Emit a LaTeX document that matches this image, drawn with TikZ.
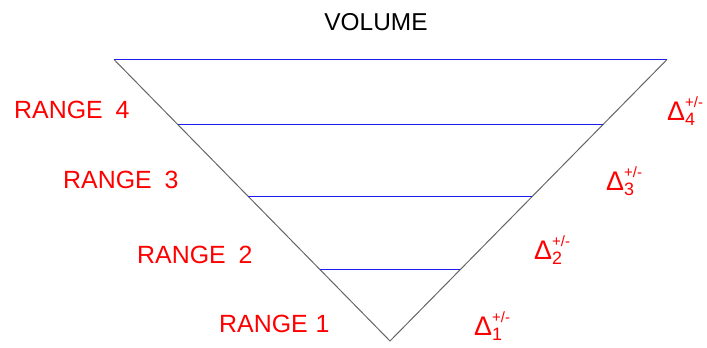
\documentclass[tikz,border=0pt]{standalone}
\usepackage{fontspec}
\setmainfont{Liberation Sans}
\usetikzlibrary{calc}
\definecolor{lvlblue}{RGB}{30,30,240}
\newcommand{\dlt}[1]{{\fontsize{27}{27}\selectfont Δ}\rlap{\raisebox{-6pt}{\fontsize{18}{18}\selectfont #1}}\raisebox{13pt}{\fontsize{15}{15}\selectfont +/-}}
\begin{document}
\begin{tikzpicture}[x=1bp,y=-1bp,
  side/.style={draw=black!60, line width=1bp},
  level/.style={draw=lvlblue, line width=1.5bp},
  lbl/.style={text=red, inner sep=0pt, anchor=base west, font=\fontsize{25}{25}\selectfont},
  ttl/.style={text=black, inner sep=0pt, anchor=base, font=\fontsize{24.5}{24.5}\selectfont}]
\useasboundingbox (0,0) rectangle (707,347);
\coordinate (TL) at (114,59.5);
\coordinate (TR) at (667,59.5);
\coordinate (A) at (390,341);
\coordinate (L3) at ($(TL)!0.2309!(A)$);
\coordinate (R3) at ($(TR)!0.2309!(A)$);
\coordinate (L2) at ($(TL)!0.4867!(A)$);
\coordinate (R2) at ($(TR)!0.4867!(A)$);
\coordinate (L1) at ($(TL)!0.7460!(A)$);
\coordinate (R1) at ($(TR)!0.7460!(A)$);
\draw[side] (TL) -- (A) -- (TR);
\draw[level] (L3) -- (R3);
\draw[level] (L2) -- (R2);
\draw[level] (L1) -- (R1);
\draw[level] (TL) -- (TR);
\node[ttl] (vol) at (376,30) {VOLUME};
\node[lbl] (r4) at (14,118) {RANGE\hspace{13pt}4};
\node[lbl] (r3) at (63,188) {RANGE\hspace{13pt}3};
\node[lbl] (r2) at (137,263) {RANGE\hspace{13pt}2};
\node[lbl] (r1) at (219,332) {RANGE\hspace{8pt}1};
\node[lbl] (d4) at (667,120) {\dlt{4}};
\node[lbl] (d3) at (606,190) {\dlt{3}};
\node[lbl] (d2) at (534,259) {\dlt{2}};
\node[lbl] (d1) at (474,335) {\dlt{1}};
\end{tikzpicture}
\end{document}
